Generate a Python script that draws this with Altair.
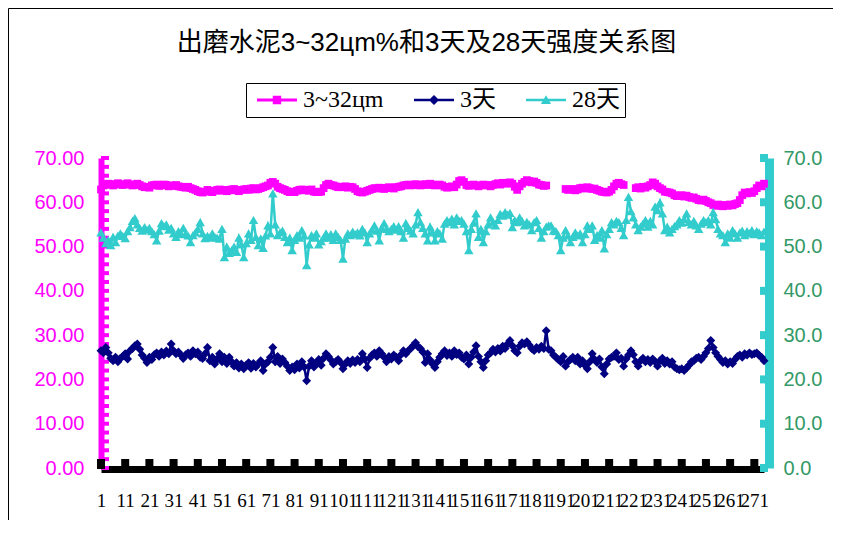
import altair as alt
import pandas as pd

# ---------------- data ----------------
categories = list(range(1, 276))

fine_3_32 = [
    62.9, 63.8, 64.0, 64.2, 64.0, 63.8, 64.1, 64.3, 64.0, 63.9,
    64.1, 64.3, 64.0, 63.8, 64.0, 64.2, 63.9, 63.6, 63.4, 63.5,
    63.3, 63.8, 63.9, 64.0, 63.7, 63.8, 64.0, 63.9, 63.6, 63.8,
    63.7, 63.9, 63.6, 63.5, 63.4, 63.3, 63.5, 63.2, 63.0, 62.8,
    62.5, 62.3, 62.2, 62.4, 62.8, 62.5, 62.3, 62.6, 62.8, 62.9,
    62.6, 62.8, 62.5, 62.7, 62.9, 63.0, 62.7, 62.5, 62.8, 62.9,
    63.0, 62.8, 63.1, 63.2, 62.9, 63.0, 63.2, 63.4, 63.6, 63.8,
    64.4, 64.6, 64.2, 63.5, 63.2, 63.0, 62.8, 62.5, 62.3, 62.4,
    62.3, 62.6, 62.8, 62.9, 62.7, 62.8, 62.6, 62.9, 62.4, 62.3,
    62.3, 62.4, 63.2, 63.9, 64.2, 63.9, 63.8, 63.6, 63.4, 63.5,
    63.4, 63.6, 63.3, 63.5, 63.4, 63.0, 62.5, 62.3, 62.2, 62.4,
    62.6, 62.8, 63.0, 63.2, 63.1, 63.3, 63.2, 63.0, 63.2, 63.4,
    63.3, 63.1, 63.4, 63.5, 63.6, 63.8, 63.9, 64.0, 63.8, 63.9,
    64.1, 63.9, 63.8, 64.0, 64.1, 63.9, 64.2, 64.0, 63.8, 63.9,
    64.0, 63.8, 63.5, 63.3, 63.4, 63.6, 63.4, 64.0, 64.8, 65.0,
    64.6, 63.9, 63.7, 63.9, 64.0, 63.8, 63.6, 63.8, 64.0, 63.9,
    63.8, 63.6, 63.9, 64.1, 64.3, 64.0, 64.4, 64.2, 64.3, 64.5,
    64.2, 63.5, 62.8, 63.6, 64.2, 64.6, 65.0, 64.8, 64.5, 64.7,
    64.4, 64.0, 63.9, 63.7, 63.8, None, None, None, None, None,
    None, None, 63.0, 62.8, 62.9, 63.0, 62.7, 62.9, 63.2, 63.3,
    63.1, 63.4, 63.2, 63.0, 63.1, 62.8, 62.6, 62.4, 62.3, 62.2,
    62.4, 62.8, 63.6, 64.2, 64.4, 64.1, 63.9, None, None, None,
    None, 63.2, 63.4, 63.1, 63.5, 63.3, 63.6, 63.9, 64.5, 64.2,
    63.6, 63.2, 62.9, 62.4, 62.3, 62.2, 62.0, 61.6, 61.4, 61.5,
    61.6, 61.3, 61.5, 61.2, 61.0, 61.1, 60.8, 60.5, 60.4, 60.6,
    60.3, 60.0, 59.8, 59.4, 59.2, 59.5, 59.3, 59.1, 59.4, 59.2,
    59.5, 59.3, 59.6, 59.8, 60.5, 61.6, 62.2, 62.0, 62.3, 62.1,
    62.5, 63.2, 63.8, 63.6, 64.2,
]

strength_3d = [
    26.5, 26.0, 27.2, 26.0, 24.8, 24.2, 25.0, 24.0, 24.8, 25.2,
    25.8, 24.6, 26.5, 27.0, 27.6, 28.0, 26.8, 25.5, 24.8, 23.8,
    25.0, 24.5, 25.6, 26.0, 25.2, 26.2, 25.5, 26.4, 25.8, 28.0,
    26.5, 25.8, 26.2, 25.5, 24.7, 25.6, 26.0, 25.2, 26.5, 25.8,
    26.2, 25.0, 24.7, 25.8, 27.2, 24.2, 25.0, 23.5, 24.6, 25.8,
    24.0, 25.0, 23.6, 25.0, 24.0, 23.0, 23.8, 22.6, 23.5, 22.4,
    23.2, 23.8, 22.5, 23.6, 22.8, 23.5, 24.2, 22.0, 23.5, 24.0,
    25.0, 27.2, 24.0, 25.2, 23.6, 24.6, 23.8, 23.0, 22.0, 22.8,
    22.2, 23.5, 22.6, 24.0, 22.8, 19.7, 23.0, 24.2, 22.8, 23.6,
    24.5, 23.2, 24.8, 25.8, 25.2, 24.4, 23.5, 24.0, 24.5, 23.8,
    22.4, 23.5, 24.2, 23.6, 24.4, 23.8, 24.5, 24.0, 25.8, 24.6,
    22.7, 24.8, 25.5, 26.0, 25.2, 26.5, 25.8, 25.0, 24.0, 25.2,
    24.6, 25.5, 25.0, 24.2, 25.6, 26.5, 25.8, 26.5, 27.0, 27.6,
    28.3, 27.4, 27.0, 26.2, 23.8, 25.8, 24.4, 23.5, 22.7, 24.0,
    25.0, 25.8, 26.5, 25.4, 26.0, 25.2, 26.5, 25.6, 26.0, 25.0,
    24.6, 25.5, 23.5, 25.0, 26.2, 27.6, 25.2, 24.0, 22.7, 24.2,
    25.5, 26.0, 26.8, 26.2, 27.0, 26.4, 27.5, 27.0, 28.0, 28.8,
    27.6, 26.5, 26.0, 27.5, 28.3, 28.0, 28.5, 27.8, 27.0, 26.5,
    27.2, 26.8, 27.5, 27.0, 31.0, 26.8, 26.5, 25.5, 25.0, 24.5,
    24.0, 25.2, 23.0, 24.0, 24.5, 25.0, 24.2, 25.0, 23.5, 24.2,
    23.2, 22.4, 24.0, 25.8, 24.5, 23.8, 24.6, 22.8, 21.3, 23.5,
    24.6, 25.0, 25.2, 26.0, 24.5, 24.8, 23.0, 24.6, 25.5, 26.5,
    25.6, 24.0, 23.0, 24.2, 24.8, 24.0, 24.5, 23.8, 24.6, 24.0,
    23.0, 24.2, 24.8, 23.6, 24.2, 23.5, 24.0, 22.8, 22.4, 22.2,
    22.4, 22.0, 22.6, 23.2, 24.0, 24.2, 24.8, 25.0, 24.5, 25.2,
    26.0, 27.0, 28.8, 27.2, 26.0, 25.2, 24.5, 23.8, 24.2, 23.5,
    24.0, 23.6, 24.5, 25.2, 25.5, 25.0, 25.8, 25.5, 26.0, 25.6,
    25.8, 26.0, 25.4, 25.0, 24.2,
]

strength_28d = [
    53.2, 52.0, 50.8, 51.5, 50.3, 52.2, 51.0, 52.5, 53.0, 52.4,
    51.9, 53.5, 54.4, 55.8, 56.4, 55.0, 54.2, 53.6, 54.4, 53.8,
    54.2, 53.5, 52.8, 51.4, 53.6, 55.3, 54.6, 55.0, 53.8, 54.2,
    53.0, 52.2, 53.5, 52.8, 54.2, 53.0, 52.5, 51.0, 52.6, 53.2,
    54.0, 55.5, 53.0, 51.9, 52.4, 52.0, 53.0, 52.2, 52.0, 51.8,
    54.0, 47.6, 50.0, 48.6, 49.2, 50.0, 48.8, 52.0, 50.5, 47.6,
    50.8, 53.0, 51.5, 56.0, 52.2, 50.3, 51.8, 49.7, 52.5, 54.8,
    53.0, 62.0, 55.0, 52.6, 53.2, 53.6, 52.2, 51.0, 52.0, 49.2,
    51.5, 52.6, 52.0, 53.7, 52.5, 45.8, 50.5, 52.6, 52.0, 53.0,
    50.5, 51.2, 52.0, 53.0, 52.0, 52.8, 51.5, 53.0, 52.2, 51.5,
    47.3, 51.8, 53.0, 52.6, 53.4, 52.8, 53.2, 52.5, 54.0, 53.2,
    51.0, 53.0, 53.8, 54.8, 53.6, 51.4, 54.2, 55.3, 54.0, 53.5,
    54.0, 54.6, 53.8, 54.6, 53.5, 52.0, 55.3, 54.2, 53.6, 53.0,
    55.0, 57.8, 55.5, 54.2, 53.0, 51.4, 54.5, 53.2, 51.4, 53.5,
    53.0, 51.8, 55.2, 56.0, 55.5, 56.3, 55.0, 56.6, 55.8, 56.0,
    55.2, 53.5, 49.2, 54.0, 55.4, 57.5, 52.2, 54.0, 51.0, 53.5,
    55.0, 56.6, 55.5, 54.8, 56.0, 57.4, 57.0, 57.8, 57.2, 57.6,
    54.4, 56.0, 55.5, 56.6, 55.8, 54.8, 55.6, 55.0, 53.7, 55.5,
    56.0, 54.2, 52.0, 53.5, 54.5, 54.8, 54.8, 53.6, 53.5, 52.6,
    49.2, 52.0, 53.7, 52.5, 51.0, 52.2, 53.2, 52.5, 53.0, 51.0,
    52.8, 54.8, 54.0, 54.8, 51.5, 52.6, 52.0, 53.7, 49.6, 52.8,
    54.0, 55.5, 55.0, 55.8, 55.5, 54.2, 52.6, 56.0, 61.2, 58.0,
    56.6, 55.0, 53.7, 54.5, 55.2, 56.0, 54.5, 55.8, 55.0, 59.0,
    58.2, 60.0, 57.5, 53.7, 54.5, 53.2, 54.0, 54.6, 55.0, 56.0,
    55.4, 56.2, 57.5, 55.6, 55.0, 55.8, 54.8, 54.0, 55.2, 56.0,
    55.5, 56.0, 55.0, 57.8, 56.2, 54.0, 53.0, 52.6, 51.0, 53.0,
    52.0, 53.7, 53.0, 52.0, 53.2, 53.6, 52.6, 53.5, 53.0, 53.7,
    52.8, 53.5, 53.2, 52.6, 53.4,
]

series_names = ["3~32цm", "3天", "28天"]
x_label_values = list(range(1, 276, 10))
left_label_values = list(range(0, 71, 10))
left_minor_ticks = list(range(0, 71, 2))
right_label_values = list(range(0, 71, 10))

title_text = "出磨水泥3~32цm%和3天及28天强度关系图"

# ---------------- style ----------------
W, H = 663, 310
MAG, NAVY, TURQ, SEA = "#FF00FF", "#000080", "#33CCCC", "#339966"
SANS = "Liberation Sans, Noto Sans CJK SC"
SERIF = "Liberation Serif, Noto Sans CJK SC"

df_fine = pd.DataFrame({"idx": categories, "v": fine_3_32})
df_3d = pd.DataFrame({"idx": categories, "v": strength_3d})
df_28d = pd.DataFrame({"idx": categories, "v": strength_28d})

xs = alt.Scale(domain=[1, 275], nice=False, zero=False)
ysl = alt.Scale(domain=[0, 70], nice=False)
ysr = alt.Scale(domain=[0, 70], nice=False)

x_axis = alt.Axis(values=x_label_values, format="d", title=None, grid=False,
                  ticks=False, domainColor="black", domainWidth=7, offset=1,
                  labelFont=SERIF, labelFontSize=19, labelColor="black",
                  labelPadding=22, labelOverlap=False, labelFlush=False, labelAngle=0)
yl_axis = alt.Axis(values=left_label_values, format=".2f", title=None, grid=False,
                   ticks=False, domainColor=MAG, domainWidth=6,
                   labelColor=MAG, labelFont=SANS, labelFontSize=20, labelPadding=17)
yr_axis = alt.Axis(orient="right", values=right_label_values, format=".1f", title=None,
                   grid=False, ticks=False, domainColor=TURQ, domainWidth=9, offset=5,
                   labelColor=SEA, labelFont=SANS, labelFontSize=20, labelPadding=14)

XE = alt.X("idx:Q", scale=xs, axis=x_axis)
YL = alt.Y("v:Q", scale=ysl, axis=yl_axis)
YR = alt.Y("v:Q", scale=ysr, axis=yr_axis)

m_line = alt.Chart(df_fine).mark_line(color=MAG, strokeWidth=3, invalid="break-paths-show-domains").encode(x=XE, y=YL)
m_pts = alt.Chart(df_fine).mark_point(shape="square", filled=True, size=60, color=MAG, opacity=1).encode(x=XE, y=YL)
n_line = alt.Chart(df_3d).mark_line(color=NAVY, strokeWidth=2.5).encode(x=XE, y=YL)
n_pts = alt.Chart(df_3d).mark_point(shape="diamond", filled=True, size=80, color=NAVY, opacity=1).encode(x=XE, y=YL)

mag_ticks = alt.Chart(pd.DataFrame({"v": left_minor_ticks})).mark_tick(
    color=MAG, thickness=4, size=8, orient="horizontal", opacity=1).encode(y=YL, x=alt.value(4))
x_ticks = alt.Chart(pd.DataFrame({"idx": x_label_values})).mark_tick(
    color="black", thickness=8, size=10, orient="vertical", opacity=1).encode(x=XE, y=alt.value(H - 4))

# legend carrier (invisible points) -- line + marker symbols
legend_paths = [
    "M-1.667,-0.12H1.667V0.12H-1.667ZM-0.35,-0.35H0.35V0.35H-0.35Z",
    "M-1.667,-0.1H1.667V0.1H-1.667ZM0,-0.42L0.42,0L0,0.42L-0.42,0Z",
    "M-1.667,-0.1H1.667V0.1H-1.667ZM0,-0.4L0.42,0.33L-0.42,0.33Z",
]
leg = alt.Legend(title=None, orient="none", legendX=145, legendY=-75, direction="horizontal",
                 strokeColor="black", fillColor="white", padding=5, symbolSize=576,
                 symbolOffset=14, labelOffset=14, columnPadding=24, labelFont=SERIF,
                 labelFontSize=24, labelColor="black", symbolOpacity=1, symbolStrokeWidth=0)
legend_df = pd.DataFrame({"series": series_names, "idx": [1, 1, 1], "v": [0, 0, 0]})
legend_layer = alt.Chart(legend_df).mark_point(filled=True, opacity=0).encode(
    x=XE, y=YL,
    color=alt.Color("series:N", scale=alt.Scale(domain=series_names, range=[MAG, NAVY, TURQ]), legend=leg),
    shape=alt.Shape("series:N", scale=alt.Scale(domain=series_names, range=legend_paths), legend=leg),
)

frame_df = pd.DataFrame({"k": [0]})
frame_left = alt.Chart(frame_df).mark_rule(color="black", strokeWidth=1).encode(
    x=alt.value(-92.5), y=alt.value(-149.5), y2=alt.value(H + 60))
frame_top = alt.Chart(frame_df).mark_rule(color="black", strokeWidth=1).encode(
    y=alt.value(-149.5), x=alt.value(-92.5), x2=alt.value(W + 80))

c_line = alt.Chart(df_28d).mark_line(color=TURQ, strokeWidth=2.5).encode(x=XE, y=YR)
c_pts = alt.Chart(df_28d).mark_point(shape="triangle-up", filled=True, size=90, color=TURQ, opacity=1).encode(x=XE, y=YR)
c_ticks = alt.Chart(pd.DataFrame({"v": right_label_values})).mark_tick(
    color=TURQ, thickness=8, size=8, orient="horizontal", opacity=1).encode(y=YR, x=alt.value(W))

left = alt.layer(frame_left, frame_top, m_line, n_line, mag_ticks, x_ticks, m_pts, n_pts, legend_layer)
right = alt.layer(c_line, c_pts, c_ticks)

chart = alt.layer(left, right).resolve_scale(y="independent").properties(
    width=W, height=H,
    title=alt.TitleParams(title_text, fontSize=26, font=SANS, fontWeight="normal", color="black",
                          anchor="middle", frame="group", baseline="alphabetic",
                          offset=-69, dx=-6),
    padding={"left": 93, "top": 150, "right": 69, "bottom": 52},
    autosize=alt.AutoSizeParams(type="none"),
).configure_view(stroke=None)

chart.save("out.html", embed_options={"renderer": "svg", "actions": False})
